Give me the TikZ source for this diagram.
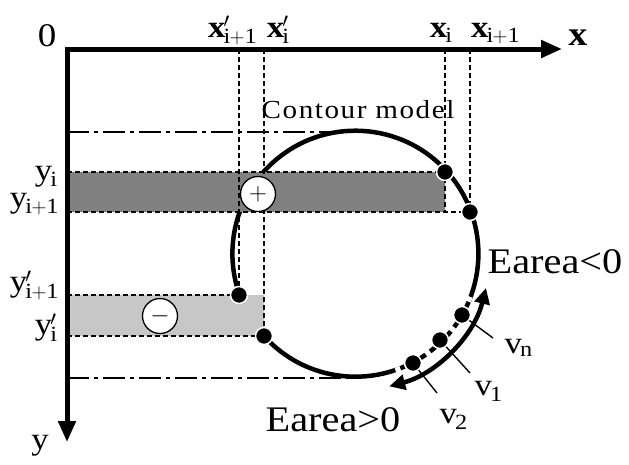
\documentclass[tikz,border=0pt]{standalone}
\usepackage{fontspec}
\setmainfont{Liberation Serif}[FakeStretch=1.12]
\usetikzlibrary{arrows.meta,calc}

\newcommand{\fsz}[1]{\fontsize{#1}{#1}\selectfont}

\begin{document}
\begin{tikzpicture}[
  x=1pt, y=-1pt,
  axis/.style={line width=5pt, line join=miter,
    {Triangle[length=21pt,width=17pt]}-{Triangle[length=21pt,width=17pt]}},
  guide/.style={dash pattern=on 5pt off 3pt, line width=1.3pt},
  chain/.style={dash pattern=on 22pt off 5pt on 4pt off 5pt, line width=1.3pt},
  contour/.style={line width=4.5pt},
  vertex/.style={circle, fill=black, draw=white, line width=1.5pt,
    minimum size=17pt, inner sep=0pt},
  sign/.style={circle, fill=white, draw=black, line width=1.3pt,
    minimum size=35pt, inner sep=0pt, font=\fsz{30}},
  lab/.style={font=\fsz{31}, inner sep=0pt},
  ylab/.style={lab, anchor=east},
  energy/.style={font=\fsz{36}, inner sep=0pt},
  tick/.style={line width=1.4pt},
  flow/.style={line width=4.5pt,
    {Triangle[length=16pt,width=15pt]}-{Triangle[length=16pt,width=15pt]}}
]
\useasboundingbox (0,0) rectangle (629,464);

% --- points ---
\coordinate (o) at (67,49);
\coordinate (xtip) at (562,49);
\coordinate (ytip) at (67,442);
\coordinate (c) at (354,255);
\coordinate (ctop) at ($(c)+(0,-123)$);
\coordinate (cbot) at ($(c)+(0,123)$);
\coordinate (pi) at (445,172);    % (x_i, y_i)
\coordinate (pj) at (470,212);    % (x_{i+1}, y_{i+1})
\coordinate (qj) at (239,295);    % (x'_{i+1}, y'_{i+1})
\coordinate (qi) at (264,336);    % (x'_i, y'_i)
\coordinate (v2) at (413,363);
\coordinate (v1) at (440,340);
\coordinate (vn) at (462,315);

% --- contour ---
\draw[contour] (qi) arc[start angle=138, end angle=-199.2, radius=123];
\foreach \a in {21,37,53,69}
  \draw[white, line width=6pt] ($(c)+(\a-1.2:123)$) arc[start angle=\a-1.2, end angle=\a+1.2, radius=123];

% --- strips ---
\fill[black!50] (pi -| o) rectangle (pi |- pj);
\fill[black!22] (qj -| o) rectangle (qi);
\draw[guide] (pi -| o) -- (pi) -- (pi |- pj);
\draw[guide] (pj -| o) -- (pj);
\draw[guide] (qj -| o) -- (qj);
\draw[guide] (qi -| o) -- (qi);

% --- projections ---
\draw[guide] (pi |- o) -- (pi);
\draw[guide] (pj |- o) -- (pj);
\draw[guide] (qj |- o) -- (qj);
\draw[guide] (qi |- o) -- (qi);
\draw[chain] (ctop -| o) -- (ctop);
\draw[chain] (cbot -| o) -- (cbot);

% --- axes ---
\draw[axis] (xtip) -- (o) -- (ytip);

% --- vertices and direction ---
\draw[tick] (v2) -- (437,393);
\draw[tick] (v1) -- (470,373);
\draw[tick] (vn) -- (493,338);
\draw[flow] ($(c)+(14:136)$) arc[start angle=14, end angle=75, radius=136];
\foreach \p in {pi,pj,qj,qi,v2,v1,vn}
  \node[vertex] at (\p) {};
\node[sign] (plus) at (258,194) {$+$};
\node[sign] (minus) at (160,316) {$-$};

% --- labels ---
\node[lab, font=\fsz{33}] (lo) at (47,36) {0};
\node[lab, font=\fsz{34}\bfseries] (lx) at (578,38) {x};
\node[lab] (ly) at (40,446) {y};
\node[lab, anchor=base] (lxq1) at (232,37) {$\mathbf{x}'_{\mathrm{i+1}}$};
\node[lab, anchor=base] (lxq0) at (278,37) {$\mathbf{x}'_{\mathrm{i}}$};
\node[lab, anchor=base] (lxp0) at (441,37) {$\mathbf{x}_{\mathrm{i}}$};
\node[lab, anchor=base] (lxp1) at (495,37) {$\mathbf{x}_{\mathrm{i+1}}$};
\node[ylab] (lyp0) at (57,177) {$\mathrm{y}_{\mathrm{i}}$};
\node[ylab] (lyp1) at (58,204) {$\mathrm{y}_{\mathrm{i+1}}$};
\node[ylab] (lyq1) at (58,285) {$\mathrm{y}'_{\mathrm{i+1}}$};
\node[ylab] (lyq0) at (57,328) {$\mathrm{y}'_{\mathrm{i}}$};
\node[font=\fsz{26}\addfontfeature{LetterSpace=6}, inner sep=0pt] (lcm) at (358,110) {Contour model};
\node[energy] (eneg) at (555,262) {Earea<0};
\node[energy] (epos) at (333,420) {Earea>0};
\node[lab] (lvn) at (518,348) {$\mathrm{v}_{\mathrm{n}}$};
\node[lab] (lv1) at (488,391) {$\mathrm{v}_{\mathrm{1}}$};
\node[lab] (lv2) at (453,419) {$\mathrm{v}_{\mathrm{2}}$};
\end{tikzpicture}
\end{document}
